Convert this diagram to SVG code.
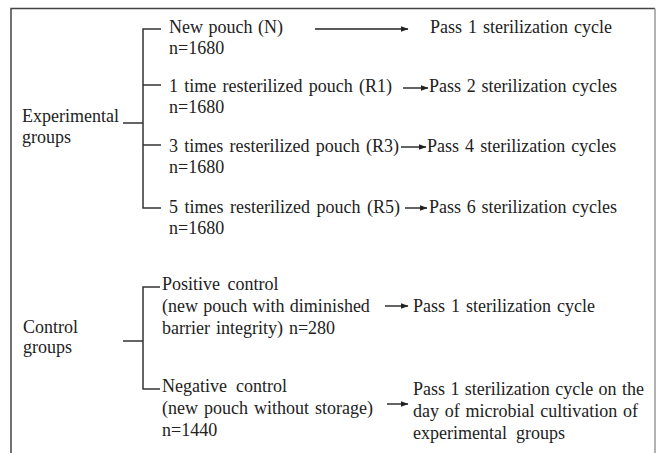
<svg xmlns="http://www.w3.org/2000/svg" width="657" height="453" viewBox="0 0 657 453">
<style>
text{font-family:'Liberation Serif','Times New Roman',serif;font-size:18px;fill:#222}
.ln{stroke:#333;stroke-width:1.5;fill:none}
.ar{stroke:#222;stroke-width:1.4;fill:none;marker-end:url(#ah)}
</style>
<defs>
<marker id="ah" markerWidth="8" markerHeight="6" refX="7.5" refY="3" orient="auto" markerUnits="userSpaceOnUse">
<path d="M0,0 L8,3 L0,6 Z" fill="#222"/>
</marker>
</defs>
<rect width="657" height="453" fill="#fff"/>
<path d="M11,470 V8.5 H655" fill="none" stroke="#444" stroke-width="1.5"/>
<path d="M655,8.5 V470" stroke="#999" stroke-width="1.5"/>

<g id="connectors">
<path class="ln" d="M123,123 H143 M161,29 H143 V208 H161 M143,85 H161 M143,145 H161"/>
<path class="ln" d="M123,341 H143 M160,287 H143 V389 H160"/>
<line class="ar" x1="315" y1="29" x2="408" y2="29"/>
<line class="ar" x1="403" y1="88" x2="428" y2="88"/>
<line class="ar" x1="401" y1="147" x2="426" y2="147"/>
<line class="ar" x1="405" y1="208" x2="427" y2="208"/>
<line class="ar" x1="385" y1="306" x2="408" y2="306"/>
<line class="ar" x1="387" y1="404" x2="408" y2="404"/>
</g>

<g id="experimental">
<text x="22" y="122">Experimental</text>
<text x="22" y="143">groups</text>
</g>
<g id="new-pouch">
<text x="169" y="33" word-spacing="1">New pouch (N)</text>
<text x="169" y="54">n=1680</text>
</g>
<g id="r1">
<text x="169" y="92" word-spacing="1.75">1 time resterilized pouch (R1)</text>
<text x="169" y="113">n=1680</text>
</g>
<g id="r3">
<text x="169" y="152" word-spacing="1.75">3 times resterilized pouch (R3)</text>
<text x="169" y="173">n=1680</text>
</g>
<g id="r5">
<text x="169" y="213" word-spacing="2">5 times resterilized pouch (R5)</text>
<text x="169" y="234">n=1680</text>
</g>
<g id="pass-n"><text x="430" y="33" word-spacing="1.5">Pass 1 sterilization  cycle</text></g>
<g id="pass-r1"><text x="429" y="92" word-spacing="1.2">Pass 2 sterilization  cycles</text></g>
<g id="pass-r3"><text x="427" y="152" word-spacing="1.6">Pass 4 sterilization  cycles</text></g>
<g id="pass-r5"><text x="429" y="213" word-spacing="1.2">Pass 6 sterilization  cycles</text></g>

<g id="control">
<text x="23" y="333">Control</text>
<text x="23" y="353">groups</text>
</g>
<g id="positive">
<text x="162" y="290" word-spacing="3">Positive control</text>
<text x="162" y="312" word-spacing="0.8">(new pouch with diminished</text>
<text x="162" y="334" word-spacing="1.5">barrier integrity)  n=280</text>
</g>
<g id="negative">
<text x="162" y="392" word-spacing="4.5">Negative control</text>
<text x="162" y="414" word-spacing="1.5">(new pouch without storage)</text>
<text x="162" y="436">n=1440</text>
</g>
<g id="pass-positive"><text x="413" y="312" word-spacing="1.5">Pass 1 sterilization  cycle</text></g>
<g id="pass-negative">
<text x="413" y="395" word-spacing="0.9">Pass 1 sterilization  cycle on the</text>
<text x="413" y="417" word-spacing="1.25">day of microbial cultivation  of</text>
<text x="413" y="439" word-spacing="4.5">experimental groups</text>
</g>
</svg>
